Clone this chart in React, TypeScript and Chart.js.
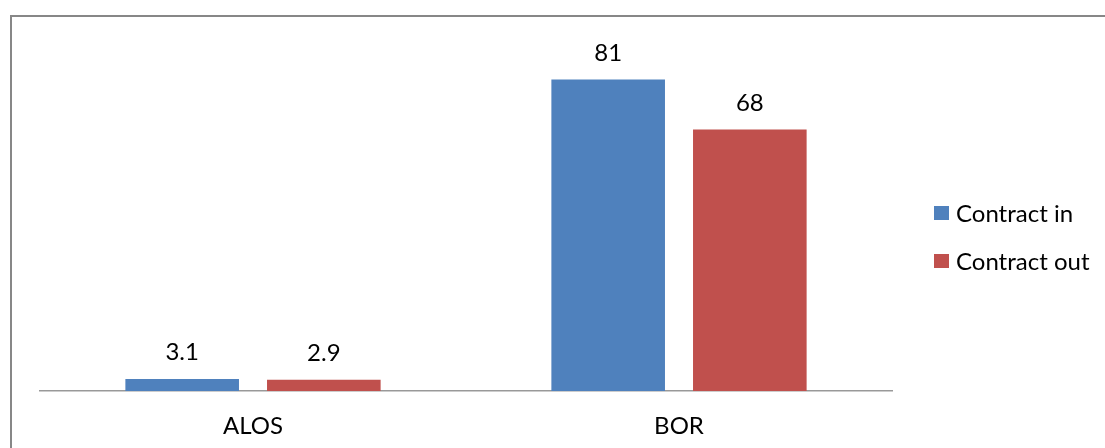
import React, { useEffect, useRef } from "react";
import { Chart, registerables } from "chart.js";

Chart.register(...registerables);

const categories = ["ALOS", "BOR"];
const contractIn = [3.1, 81];
const contractOut = [2.9, 68];
const seriesNames = ["Contract in", "Contract out"];
const seriesColors = ["#4F81BD", "#C0504D"];

const FONT = "Lato, 'Open Sans', sans-serif";
const FONT_SIZE = 24;

const frameAndLabels = {
  id: "frameAndLabels",
  beforeDraw(chart: any) {
    const ctx = chart.ctx;
    ctx.save();
    ctx.fillStyle = "#ffffff";
    ctx.fillRect(0, 0, chart.width, chart.height);
    ctx.strokeStyle = "#878787";
    ctx.lineWidth = 2;
    ctx.beginPath();
    ctx.moveTo(11, chart.height + 10);
    ctx.lineTo(11, 16);
    ctx.lineTo(chart.width + 10, 16);
    ctx.stroke();
    ctx.restore();
  },
  afterDatasetsDraw(chart: any) {
    const ctx = chart.ctx;
    ctx.save();
    ctx.font = `${FONT_SIZE}px ${FONT}`;
    ctx.fillStyle = "#000000";
    ctx.textAlign = "center";
    ctx.textBaseline = "alphabetic";
    chart.data.datasets.forEach((ds: any, i: number) => {
      const meta = chart.getDatasetMeta(i);
      meta.data.forEach((bar: any, j: number) => {
        ctx.fillText(String(ds.data[j]), bar.x, bar.y - 19);
      });
    });
    // legend on the right
    const lx = 934;
    const rows = [213, 261];
    chart.data.datasets.forEach((ds: any, i: number) => {
      const cy = rows[i];
      ctx.fillStyle = ds.backgroundColor;
      ctx.fillRect(lx, cy - 7, 15, 14);
      ctx.fillStyle = "#000000";
      ctx.textAlign = "left";
      ctx.textBaseline = "middle";
      ctx.fillText(ds.label, 956, cy + 1);
    });
    ctx.restore();
  },
};

export default function App() {
  const ref = useRef<HTMLCanvasElement>(null);

  useEffect(() => {
    if (!ref.current) return;
    const chart = new Chart(ref.current, {
      type: "bar",
      data: {
        labels: categories,
        datasets: [
          { label: seriesNames[0], data: contractIn, backgroundColor: seriesColors[0] },
          { label: seriesNames[1], data: contractOut, backgroundColor: seriesColors[1] },
        ],
      },
      options: {
        responsive: false,
        animation: false,
        devicePixelRatio: 1,
        layout: { padding: { left: 40, right: 213, top: 45, bottom: 10 } },
        datasets: {
          bar: { categoryPercentage: 0.665, barPercentage: 0.802 },
        },
        plugins: {
          legend: { display: false },
          tooltip: { enabled: false },
        },
        scales: {
          x: {
            grid: { display: false, drawTicks: false },
            border: { display: true, color: "#999999", width: 1.5 },
            ticks: {
              color: "#000000",
              padding: 21,
              font: { family: FONT, size: FONT_SIZE },
            },
            afterFit(scale: any) {
              scale.height = 47;
            },
          },
          y: {
            display: false,
            min: 0,
            max: 90,
          },
        },
      },
      plugins: [frameAndLabels],
    });
    return () => chart.destroy();
  }, []);

  return (
    <div style={{ position: "fixed", left: 0, top: 0, width: 1105, height: 448, background: "#fff" }}>
      <canvas ref={ref} width={1105} height={448} style={{ display: "block" }} />
    </div>
  );
}
